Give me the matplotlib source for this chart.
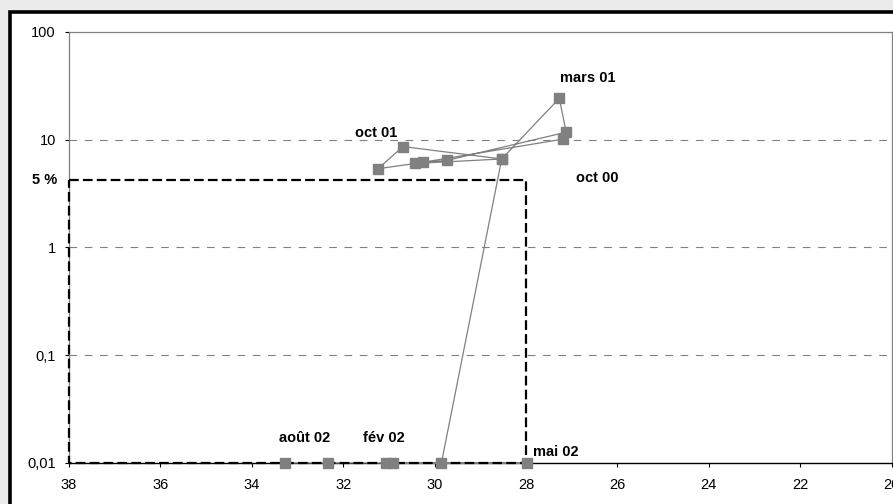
import matplotlib
matplotlib.use("Agg")
import matplotlib.pyplot as plt
import matplotlib.transforms as mtrans
from matplotlib.patches import Rectangle
from matplotlib.ticker import FixedLocator, FixedFormatter, NullLocator

plt.rcParams['font.family'] = ['Liberation Sans', 'DejaVu Sans']
plt.rcParams['lines.scale_dashes'] = False

# ---- data ----
x_vals = [27.18, 30.26, 29.73, 27.12, 27.27, 28.53, 30.42, 31.24, 30.69,
          28.53, 29.85, 30.91, 31.06, 27.98, 32.34, 33.27]
y_vals = [10.1, 6.15, 6.4, 11.7, 24.1, 6.6, 6.0, 5.36, 8.6,
          6.6, 0.01, 0.01, 0.01, 0.01, 0.01, 0.01]

# point labels: (index of point, text)
point_labels = [(0, 'oct 00'), (4, 'mars 01'), (8, 'oct 01'),
                (12, 'fév 02'), (13, 'mai 02'), (15, 'août 02')]

x_ticks = [38, 36, 34, 32, 30, 28, 26, 24, 22, 20]
y_ticks = [0.01, 0.1, 1, 10, 100]
y_tick_labels = ['0,01', '0,1', '1', '10', '100']
grid_levels = [0.1, 1, 10]

box_x = [38, 28]
box_top = 4.25
box_label = '5 %'

# ---- figure ----
W, H = 893, 504
fig = plt.figure(figsize=(W / 100, H / 100), dpi=100)
fig.patch.set_facecolor('#ebebeb')
fig.patches.append(Rectangle((10 / W, -0.2), 1.2, 1 - 12 / H + 0.2,
                             transform=fig.transFigure, facecolor='white',
                             edgecolor='black', linewidth=2.6, zorder=-5))

ax = fig.add_axes([69 / W, 1 - 463 / H, (891.5 - 69) / W, (463 - 31.7) / H])
ax.set_zorder(1)
ax.set_facecolor('white')
ax.set_yscale('log')
ax.set_xlim(x_ticks[0], x_ticks[-1])
ax.set_ylim(y_ticks[0], y_ticks[-1])

ax.xaxis.set_major_locator(FixedLocator(x_ticks))
ax.set_xticklabels([str(t) for t in x_ticks])
ax.yaxis.set_major_locator(FixedLocator(y_ticks))
ax.yaxis.set_major_formatter(FixedFormatter(y_tick_labels))
ax.yaxis.set_minor_locator(NullLocator())
ax.xaxis.set_minor_locator(NullLocator())

ax.tick_params(axis='x', direction='out', length=3, width=0.8, pad=8,
               labelsize=10.5, colors='black')
ax.tick_params(axis='y', direction='out', length=3, width=0.8, pad=6.5,
               labelsize=10.5, colors='black')

for s in ['top', 'right', 'left']:
    ax.spines[s].set_color('#808080')
    ax.spines[s].set_linewidth(0.9)
ax.spines['bottom'].set_color('black')
ax.spines['bottom'].set_linewidth(1.0)

for g in grid_levels:
    ax.axhline(g, color='#808080', linewidth=0.8, dashes=(5.5, 5.5), zorder=1)

# series line
ax.plot(x_vals, y_vals, color='#808080', linewidth=0.9, zorder=3, clip_on=False)

# dashed box
ax.plot([box_x[0], box_x[1], box_x[1], box_x[0], box_x[0]],
        [box_top, box_top, y_ticks[0], y_ticks[0], box_top],
        color='black', linewidth=1.6, dashes=(7, 3), zorder=4, clip_on=False)

# series markers
ax.plot(x_vals, y_vals, linestyle='none', marker='s', markersize=7.5,
        color='#808080', markeredgecolor='#808080', zorder=5, clip_on=False)

lab_tr = mtrans.blended_transform_factory(ax.transAxes, ax.transData) + \
    mtrans.ScaledTranslation(-12 / 100, 0, fig.dpi_scale_trans)
ax.text(0, box_top, box_label, transform=lab_tr, ha='right', va='center',
        fontsize=10.5, fontweight='bold')

offsets = {'oct 00': (34, -39), 'mars 01': (28, 20), 'oct 01': (-27, 14),
           'fév 02': (-2, 25), 'mai 02': (29, 11), 'août 02': (19, 25)}
for idx, txt in point_labels:
    ax.annotate(txt, (x_vals[idx], y_vals[idx]), xytext=offsets[txt],
                textcoords='offset pixels', ha='center', va='center',
                fontsize=10.5, fontweight='bold', annotation_clip=False)

fig.savefig('out.png', dpi=100, facecolor=fig.get_facecolor())
